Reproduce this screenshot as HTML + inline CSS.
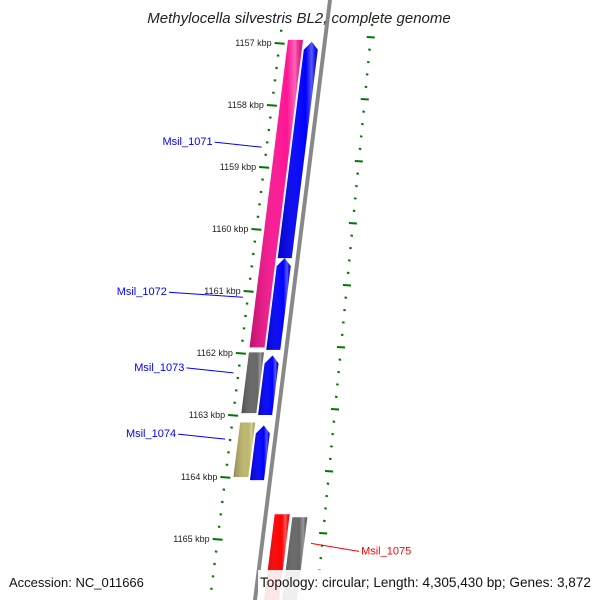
<!DOCTYPE html>
<html><head><meta charset="utf-8"><style>
body{margin:0;background:#fff}
svg{display:block}
text{font-family:"Liberation Sans","DejaVu Sans",sans-serif}
</style></head><body>
<svg id="c" width="600" height="600" viewBox="0 0 600 600">
<defs>
<linearGradient id="shade" x1="0" x2="1" y1="0" y2="0">
<stop offset="0" stop-color="#000" stop-opacity="0.25"/>
<stop offset="0.7" stop-color="#fff" stop-opacity="0"/>
<stop offset="0.85" stop-color="#fff" stop-opacity="0.35"/>
<stop offset="1" stop-color="#000" stop-opacity="0.1"/>
</linearGradient>
</defs>
<g id="g"></g>
<text x="299" y="23" text-anchor="middle" font-size="15" font-style="italic" fill="#222">Methylocella silvestris BL2, complete genome</text>
<rect x="258" y="570" width="342" height="30" fill="#fff" fill-opacity="0.9"/>
<text x="9" y="587" font-size="13" fill="#111">Accession: NC_011666</text>
<text x="591" y="587" text-anchor="end" font-size="13.6" fill="#111">Topology: circular; Length: 4,305,430 bp; Genes: 3,872</text>
</svg>
<script>
const tickKbp=[1157,1158,1159,1160,1161,1162,1163,1164,1165];
const geneNames=["pink","blue1","blue2","gray1","blue3","khaki","blue4","red","gray2"];
const geneStart=[1156.95,1156.98,1160.47,1161.99,1162.04,1163.12,1163.17,1164.6,1164.65];
const geneEnd=[1161.91,1160.47,1161.95,1162.97,1163.0,1164.0,1164.05,1166.2,1166.2];
const geneLane=[0,1,1,0,1,0,1,2,3];
const geneArrow=[false,true,true,false,true,false,true,false,false];
const geneColor=["#ff1493","#0000ff","#0000ff","#666666","#0000ff","#bdb76b","#0000ff","#ff0000","#666666"];
const labelNames=["Msil_1071","Msil_1072","Msil_1073","Msil_1074","Msil_1075"];
const labelKbp=[1158.68,1161.1,1162.32,1163.39,1165.2];
const labelColor=["#0000ff","#0000ff","#0000ff","#0000ff","#ff0000"];
const labelSide=[-1,-1,-1,-1,1];
const lineLen=[47,74,47,47,48];

const NS="http://www.w3.org/2000/svg";
const g=document.getElementById('g');
const yOf=k=>43+(k-1157)*62;
const xb=y=>330-0.125*y;
const laneOff=[[-37,-22],[-20,-6],[9,24],[27,42]];
function mk(t,a){const e=document.createElementNS(NS,t);for(const k in a)e.setAttribute(k,a[k]);g.appendChild(e);return e;}

let bb=mk('line',{x1:xb(-5),y1:-5,x2:xb(605),y2:605,stroke:'#888','stroke-width':4});



for(let k=1156.2;k<=1166.4;k+=0.2){
  const kk=Math.round(k*5)/5;
  const y=yOf(kk);
  if(y<25||y>600)continue;
  const major=Math.abs(kk-Math.round(kk))<0.01;
  const xl=xb(y)-45;
  const t=mk('line',{x1:xl-(major?5:1.2),y1:y,x2:xl+(major?5:1.2),y2:y+(major?0.8:0.3),stroke:'#007700','stroke-width':2});
  
  
  const xr=xb(y)+46+16*(y-40)/550;
  const y2=y-6;
  const t2=mk('line',{x1:xr-(major?4:1.2),y1:y2,x2:xr+(major?4:1.2),y2:y2+0.5,stroke:'#007700','stroke-width':2});
  
  
}
tickKbp.forEach(k=>{
  const y=yOf(k);
  const tx=mk('text',{x:xb(y)-53,y:y+3,'text-anchor':'end','font-size':9,fill:'#222'});
  tx.textContent=k+' kbp';
  
  
});

geneNames.forEach((n,i)=>{
  let y1=yOf(geneStart[i]),y2=Math.min(yOf(geneEnd[i]),610);
  const [o1,o2]=laneOff[geneLane[i]];
  let pts;
  if(geneArrow[i]){
    const h=y1+8;
    pts=[[xb(h)+o1,h],[xb(y1)+(o1+o2)/2,y1],[xb(h)+o2,h],[xb(y2)+o2,y2],[xb(y2)+o1,y2]];
  }else{
    pts=[[xb(y1)+o1,y1],[xb(y1)+o2,y1],[xb(y2)+o2,y2],[xb(y2)+o1,y2]];
  }
  const s=pts.map(p=>p.join(',')).join(' ');
  const p=mk('polygon',{points:s,fill:geneColor[i]});
  
  
  const sh=mk('polygon',{points:s,fill:'url(#shade)'});
  
  
});

labelNames.forEach((n,i)=>{
  const y=yOf(labelKbp[i]);
  let x1,x2,tx,anchor;
  if(labelSide[i]<0){x2=xb(y)-50;x1=x2-lineLen[i];tx=x1-2;anchor='end';}
  else{x1=xb(y)+50;x2=x1+lineLen[i];tx=x2+2;anchor='start';}
  const ly=labelSide[i]<0?y-5:y;
  const l=mk('line',{x1:x1,y1:labelSide[i]<0?ly:ly-8,x2:x2,y2:labelSide[i]<0?y:ly,stroke:labelColor[i],'stroke-width':1});
  
  
  const t=mk('text',{x:tx,y:ly+3,'text-anchor':anchor,'font-size':11,fill:labelColor[i]});
  t.textContent=n;
  
  
});
</script>
</body></html>
